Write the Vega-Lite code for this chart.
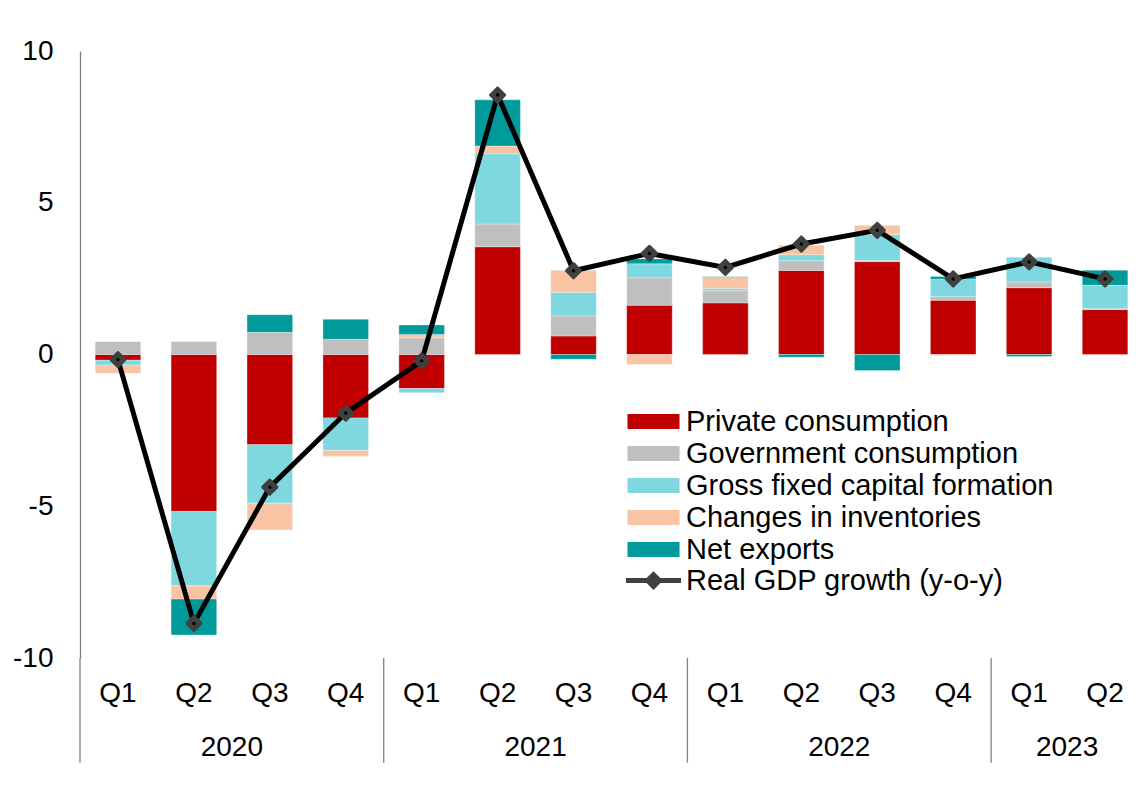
{
  "$schema": "https://vega.github.io/schema/vega-lite/v6.json",
  "autosize": "none",
  "width": 1063,
  "height": 607,
  "padding": {"left": 80, "top": 51, "right": 0, "bottom": 139},
  "background": "white",
  "config": {
    "view": {"stroke": null},
    "font": "Liberation Sans",
    "text": {"font": "Liberation Sans"},
    "legend": {
      "labelFontSize": 29, "labelFont": "Liberation Sans", "labelColor": "#000000",
      "labelLimit": 600, "symbolSize": 225, "symbolStrokeWidth": 0, "symbolOpacity": 1,
      "labelOffset": 18, "rowPadding": 2
    }
  },
  "datasets": {
    "bars": [
      {"period": "2020 Q1", "comp": "Private consumption", "ord": 1, "value": -0.19},
      {"period": "2020 Q1", "comp": "Government consumption", "ord": 2, "value": 0.43},
      {"period": "2020 Q1", "comp": "Gross fixed capital formation", "ord": 3, "value": -0.16},
      {"period": "2020 Q1", "comp": "Changes in inventories", "ord": 4, "value": -0.27},
      {"period": "2020 Q1", "comp": "Net exports", "ord": 5, "value": 0.0},
      {"period": "2020 Q2", "comp": "Private consumption", "ord": 1, "value": -5.17},
      {"period": "2020 Q2", "comp": "Government consumption", "ord": 2, "value": 0.43},
      {"period": "2020 Q2", "comp": "Gross fixed capital formation", "ord": 3, "value": -2.45},
      {"period": "2020 Q2", "comp": "Changes in inventories", "ord": 4, "value": -0.44},
      {"period": "2020 Q2", "comp": "Net exports", "ord": 5, "value": -1.18},
      {"period": "2020 Q3", "comp": "Private consumption", "ord": 1, "value": -2.97},
      {"period": "2020 Q3", "comp": "Government consumption", "ord": 2, "value": 0.73},
      {"period": "2020 Q3", "comp": "Gross fixed capital formation", "ord": 3, "value": -1.93},
      {"period": "2020 Q3", "comp": "Changes in inventories", "ord": 4, "value": -0.88},
      {"period": "2020 Q3", "comp": "Net exports", "ord": 5, "value": 0.58},
      {"period": "2020 Q4", "comp": "Private consumption", "ord": 1, "value": -2.09},
      {"period": "2020 Q4", "comp": "Government consumption", "ord": 2, "value": 0.50},
      {"period": "2020 Q4", "comp": "Gross fixed capital formation", "ord": 3, "value": -1.07},
      {"period": "2020 Q4", "comp": "Changes in inventories", "ord": 4, "value": -0.20},
      {"period": "2020 Q4", "comp": "Net exports", "ord": 5, "value": 0.66},
      {"period": "2021 Q1", "comp": "Private consumption", "ord": 1, "value": -1.12},
      {"period": "2021 Q1", "comp": "Government consumption", "ord": 2, "value": 0.55},
      {"period": "2021 Q1", "comp": "Gross fixed capital formation", "ord": 3, "value": -0.14},
      {"period": "2021 Q1", "comp": "Changes in inventories", "ord": 4, "value": 0.11},
      {"period": "2021 Q1", "comp": "Net exports", "ord": 5, "value": 0.31},
      {"period": "2021 Q2", "comp": "Private consumption", "ord": 1, "value": 3.55},
      {"period": "2021 Q2", "comp": "Government consumption", "ord": 2, "value": 0.75},
      {"period": "2021 Q2", "comp": "Gross fixed capital formation", "ord": 3, "value": 2.31},
      {"period": "2021 Q2", "comp": "Changes in inventories", "ord": 4, "value": 0.26},
      {"period": "2021 Q2", "comp": "Net exports", "ord": 5, "value": 1.52},
      {"period": "2021 Q3", "comp": "Private consumption", "ord": 1, "value": 0.61},
      {"period": "2021 Q3", "comp": "Government consumption", "ord": 2, "value": 0.66},
      {"period": "2021 Q3", "comp": "Gross fixed capital formation", "ord": 3, "value": 0.78},
      {"period": "2021 Q3", "comp": "Changes in inventories", "ord": 4, "value": 0.73},
      {"period": "2021 Q3", "comp": "Net exports", "ord": 5, "value": -0.16},
      {"period": "2021 Q4", "comp": "Private consumption", "ord": 1, "value": 1.62},
      {"period": "2021 Q4", "comp": "Government consumption", "ord": 2, "value": 0.91},
      {"period": "2021 Q4", "comp": "Gross fixed capital formation", "ord": 3, "value": 0.46},
      {"period": "2021 Q4", "comp": "Changes in inventories", "ord": 4, "value": -0.33},
      {"period": "2021 Q4", "comp": "Net exports", "ord": 5, "value": 0.16},
      {"period": "2022 Q1", "comp": "Private consumption", "ord": 1, "value": 1.70},
      {"period": "2022 Q1", "comp": "Government consumption", "ord": 2, "value": 0.40},
      {"period": "2022 Q1", "comp": "Gross fixed capital formation", "ord": 3, "value": 0.07},
      {"period": "2022 Q1", "comp": "Changes in inventories", "ord": 4, "value": 0.37},
      {"period": "2022 Q1", "comp": "Net exports", "ord": 5, "value": 0.02},
      {"period": "2022 Q2", "comp": "Private consumption", "ord": 1, "value": 2.77},
      {"period": "2022 Q2", "comp": "Government consumption", "ord": 2, "value": 0.32},
      {"period": "2022 Q2", "comp": "Gross fixed capital formation", "ord": 3, "value": 0.20},
      {"period": "2022 Q2", "comp": "Changes in inventories", "ord": 4, "value": 0.31},
      {"period": "2022 Q2", "comp": "Net exports", "ord": 5, "value": -0.09},
      {"period": "2022 Q3", "comp": "Private consumption", "ord": 1, "value": 3.06},
      {"period": "2022 Q3", "comp": "Government consumption", "ord": 2, "value": 0.04},
      {"period": "2022 Q3", "comp": "Gross fixed capital formation", "ord": 3, "value": 0.85},
      {"period": "2022 Q3", "comp": "Changes in inventories", "ord": 4, "value": 0.31},
      {"period": "2022 Q3", "comp": "Net exports", "ord": 5, "value": -0.53},
      {"period": "2022 Q4", "comp": "Private consumption", "ord": 1, "value": 1.79},
      {"period": "2022 Q4", "comp": "Government consumption", "ord": 2, "value": 0.12},
      {"period": "2022 Q4", "comp": "Gross fixed capital formation", "ord": 3, "value": 0.57},
      {"period": "2022 Q4", "comp": "Changes in inventories", "ord": 4, "value": -0.03},
      {"period": "2022 Q4", "comp": "Net exports", "ord": 5, "value": 0.09},
      {"period": "2023 Q1", "comp": "Private consumption", "ord": 1, "value": 2.20},
      {"period": "2023 Q1", "comp": "Government consumption", "ord": 2, "value": 0.19},
      {"period": "2023 Q1", "comp": "Gross fixed capital formation", "ord": 3, "value": 0.82},
      {"period": "2023 Q1", "comp": "Changes in inventories", "ord": 4, "value": 0.0},
      {"period": "2023 Q1", "comp": "Net exports", "ord": 5, "value": -0.07},
      {"period": "2023 Q2", "comp": "Private consumption", "ord": 1, "value": 1.48},
      {"period": "2023 Q2", "comp": "Government consumption", "ord": 2, "value": 0.03},
      {"period": "2023 Q2", "comp": "Gross fixed capital formation", "ord": 3, "value": 0.77},
      {"period": "2023 Q2", "comp": "Changes in inventories", "ord": 4, "value": 0.0},
      {"period": "2023 Q2", "comp": "Net exports", "ord": 5, "value": 0.50}
    ],
    "gdp": [
      {"period": "2020 Q1", "gdp": -0.17, "series": "Real GDP growth (y-o-y)"},
      {"period": "2020 Q2", "gdp": -8.86, "series": "Real GDP growth (y-o-y)"},
      {"period": "2020 Q3", "gdp": -4.37, "series": "Real GDP growth (y-o-y)"},
      {"period": "2020 Q4", "gdp": -1.93, "series": "Real GDP growth (y-o-y)"},
      {"period": "2021 Q1", "gdp": -0.21, "series": "Real GDP growth (y-o-y)"},
      {"period": "2021 Q2", "gdp": 8.55, "series": "Real GDP growth (y-o-y)"},
      {"period": "2021 Q3", "gdp": 2.76, "series": "Real GDP growth (y-o-y)"},
      {"period": "2021 Q4", "gdp": 3.33, "series": "Real GDP growth (y-o-y)"},
      {"period": "2022 Q1", "gdp": 2.87, "series": "Real GDP growth (y-o-y)"},
      {"period": "2022 Q2", "gdp": 3.64, "series": "Real GDP growth (y-o-y)"},
      {"period": "2022 Q3", "gdp": 4.09, "series": "Real GDP growth (y-o-y)"},
      {"period": "2022 Q4", "gdp": 2.49, "series": "Real GDP growth (y-o-y)"},
      {"period": "2023 Q1", "gdp": 3.05, "series": "Real GDP growth (y-o-y)"},
      {"period": "2023 Q2", "gdp": 2.49, "series": "Real GDP growth (y-o-y)"}
    ],
    "seps": [
      {"period": "2020 Q1"},
      {"period": "2021 Q1"},
      {"period": "2022 Q1"},
      {"period": "2023 Q1"}
    ],
    "years": [
      {"period": "2020 Q3", "year": "2020"},
      {"period": "2021 Q3", "year": "2021"},
      {"period": "2022 Q3", "year": "2022"},
      {"period": "2023 Q2", "year": "2023"}
    ]
  },
  "layer": [
    {
      "data": {"name": "bars"},
      "mark": {"type": "bar", "width": {"band": 0.6}, "stroke": "white", "strokeWidth": 0.5, "strokeOpacity": 0.6},
      "encoding": {
        "x": {
          "field": "period", "type": "ordinal",
          "scale": {"type": "band", "paddingInner": 0, "paddingOuter": 0},
          "axis": {
            "title": null, "domain": false, "ticks": false, "tickSize": 0,
            "labelAngle": 0, "labelFontSize": 28, "labelFont": "Liberation Sans",
            "labelColor": "#000000", "labelPadding": 21,
            "labelExpr": "split(datum.value, ' ')[1]"
          }
        },
        "y": {
          "field": "value", "type": "quantitative", "stack": "zero",
          "scale": {"domain": [-10, 10], "nice": false, "zero": false},
          "axis": {
            "title": null, "grid": false, "ticks": false, "tickSize": 0,
            "domain": true, "domainColor": "#808080", "domainWidth": 1.3,
            "values": [-10, -5, 0, 5, 10],
            "labelFontSize": 28, "labelFont": "Liberation Sans", "labelColor": "#000000",
            "labelPadding": 27, "labelExpr": "'' + datum.value"
          }
        },
        "order": {"field": "ord", "type": "quantitative"},
        "color": {
          "field": "comp", "type": "nominal",
          "scale": {
            "domain": ["Private consumption", "Government consumption", "Gross fixed capital formation", "Changes in inventories", "Net exports"],
            "range": ["#C00000", "#BFBFBF", "#7FD8E0", "#F8C4A4", "#009A9A"]
          },
          "legend": {
            "title": null, "orient": "none", "legendX": 559, "legendY": 356,
            "symbolType": "M-3.47,-1H3.47V1H-3.47Z"
          }
        }
      }
    },
    {
      "mark": {"type": "rule", "color": "#7F7F7F", "strokeWidth": 1.5},
      "encoding": {"y": {"datum": 0, "type": "quantitative"}}
    },
    {
      "data": {"name": "seps"},
      "mark": {"type": "rule", "color": "#808080", "strokeWidth": 1.3},
      "encoding": {
        "x": {"field": "period", "type": "ordinal", "bandPosition": 0},
        "y": {"datum": -10, "type": "quantitative"},
        "y2": {"datum": -13.45}
      }
    },
    {
      "data": {"name": "years"},
      "mark": {"type": "text", "fontSize": 28, "font": "Liberation Sans", "color": "#000000", "baseline": "middle", "align": "center"},
      "encoding": {
        "x": {"field": "period", "type": "ordinal", "bandPosition": 0},
        "y": {"datum": -12.95, "type": "quantitative"},
        "text": {"field": "year"}
      }
    },
    {
      "data": {"name": "gdp"},
      "mark": {"type": "line", "color": "#000000", "strokeWidth": 5},
      "encoding": {
        "x": {"field": "period", "type": "ordinal", "bandPosition": 0.5},
        "y": {"field": "gdp", "type": "quantitative"}
      }
    },
    {
      "data": {"name": "gdp"},
      "mark": {"type": "point", "shape": "diamond", "filled": true, "fill": "#404040", "stroke": "#404040", "strokeWidth": 3, "strokeJoin": "round", "size": 200},
      "encoding": {
        "x": {"field": "period", "type": "ordinal", "bandPosition": 0.5},
        "y": {"field": "gdp", "type": "quantitative"},
        "opacity": {
          "field": "series", "type": "ordinal",
          "scale": {"domain": ["Real GDP growth (y-o-y)"], "range": [1]},
          "legend": {
            "title": null, "orient": "none", "legendX": 559, "legendY": 515,
            "symbolType": "M-3.67,-0.33H3.67V0.33H-3.67Z M0,-1.25L1.25,0L0,1.25L-1.25,0Z",
            "symbolFillColor": "#000000", "symbolStrokeColor": "#000000"
          }
        }
      }
    },
    {
      "data": {"name": "gdp"},
      "mark": {"type": "circle", "color": "#000000", "size": 12, "opacity": 1},
      "encoding": {
        "x": {"field": "period", "type": "ordinal", "bandPosition": 0.5},
        "y": {"field": "gdp", "type": "quantitative"}
      }
    }
  ]
}
